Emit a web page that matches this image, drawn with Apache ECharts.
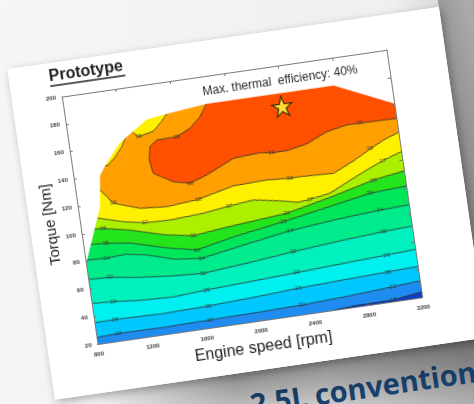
<!DOCTYPE html>
<html>
<head>
<meta charset="utf-8">
<script src="https://cdn.jsdelivr.net/npm/echarts@6/dist/echarts.min.js"></script>
<style>
html,body{margin:0;padding:0;width:474px;height:404px;overflow:hidden;}
body{position:relative;background:linear-gradient(100deg,#f6f6f6 0%,#efefef 72%,#b2b2b2 100%);}
#wrap{position:absolute;left:28px;top:37px;width:436px;height:334px;transform-origin:214px 160px;transform:rotate(-8.2deg);}
#band{position:absolute;left:40px;top:334px;width:560px;height:75px;background:linear-gradient(to bottom,rgba(0,0,0,0.42) 0%,rgba(0,0,0,0.26) 35%,rgba(0,0,0,0.06) 75%,rgba(0,0,0,0) 100%);-webkit-mask-image:linear-gradient(to right,transparent 0,#000 140px);mask-image:linear-gradient(to right,transparent 0,#000 140px);}
#rband{position:absolute;left:436px;top:-40px;width:60px;height:420px;background:linear-gradient(to right,rgba(0,0,0,0.30) 0%,rgba(0,0,0,0.18) 50%,rgba(0,0,0,0.25) 100%);}
#card{position:absolute;left:0;top:0;width:436px;height:334px;background:#fff;box-shadow:2px 3px 8px rgba(0,0,0,0.3);}
#chart{width:436px;height:334px;}
#blue{position:absolute;left:250px;top:384px;white-space:nowrap;font-family:"Open Sans","Noto Sans",sans-serif;font-weight:700;font-size:29px;color:#1e4f86;transform:rotate(-8.3deg);transform-origin:0 50%;}
</style>
</head>
<body>
<div id="blue">2.5L conventional</div>
<div id="wrap">
  <div id="band"></div>
  <div id="rband"></div>
  <div id="card"><div id="chart"></div></div>
</div>
<script>
// ---- axes ----
const xMin = 800, xMax = 3200, xStep = 400;
const yMin = 20, yMax = 200, yStep = 20;

// ---- full-load envelope (max torque curve) ----
const envelope = [[800,78],[960,117],[995,140],[1055,148],[1170,161],[1390,175],[1540,177],[1840,180],[2780,180],[3200,161]];

// ---- contour levels (thermal efficiency, %) ----
const levels = [18,22,26,29,32,34,35,36,37,38,39];
const bandColors = ['#0c3ec8','#1e8cf0','#00c8ff','#00f0f0','#00f0be','#00ec8c','#00e65a','#24e41c','#acf000','#fff000','#ffa000','#ff5000'];

const line18 = [[800,17],[2300,18],[2550,19.8],[2700,21],[2988,21.2],[3200,24]];
const line22 = [[800,24.8],[962,25.5],[1300,25.1],[1640,25.7],[2000,26.2],[2320,26.9],[2650,28.4],[2998,30.6],[3200,32]];
const line26 = [[800,35.5],[953,35.8],[1300,35],[1642,35.8],[2000,37.4],[2312,39.2],[2650,40.5],[2981,41.7],[3200,42.5]];
const line29 = [[800,49.5],[959,48.7],[1150,46.8],[1400,45.8],[1647,47.4],[2000,49],[2317,50.5],[2650,52.2],[2987,53.8],[3200,54.8]];
const line32 = [[800,67],[960,66.3],[1150,63.5],[1400,61],[1640,59.6],[2000,62.6],[2315,65.8],[2650,68.6],[2988,70.8],[3200,71.8]];
const line34 = [[800,81],[957,80.2],[1100,81.2],[1250,78.5],[1450,72.5],[1644,70.4],[2000,76.2],[2312,81],[2650,84.2],[2986,86.5],[3200,87.3]];
const line35 = [[800,92],[967,91],[1150,88.5],[1400,81.5],[1617,76.9],[1900,82.5],[2274,88.2],[2600,93.8],[2931,99.5],[3200,101]];
const line36 = [[800,103],[962,101.9],[1150,98],[1400,91],[1607,87.4],[1850,90],[2307,93.8],[2650,101],[2969,108.6],[3200,112]];
const line37 = [[800,112],[925,110],[1115,104.6],[1270,101.6],[1454,101],[1703,102.4],[1898,104.9],[2079,106.7],[2271,103.4],[2400,100.5],[2490,101.4],[2641,103.7],[2826,111.9],[2931,116.4],[3057,121.4],[3200,126]];
const line38 = [[1560,185],[1541,177],[1500,172.5],[1426,166],[1312,163.6],[1250,170],[1181,158],[1107,150],[1063,146.5],[900,144],[900,131],[980,129.6],[1061,118.8],[1250,112.4],[1445,110.8],[1681,112.8],[1950,118.8],[2196,119.6],[2367,118.4],[2441,118.5],[2690,117.5],[2850,124.5],[2977,131],[3083,136],[3200,140]];
const line39 = [[1841,180.5],[1780,171.6],[1695,164.3],[1590,159.7],[1442,159.4],[1386,155.3],[1367,145.9],[1382,136],[1518,127.9],[1638,125.1],[1767,129.3],[1977,138.4],[2176,139.7],[2261,138.5],[2372,138.4],[2524,141.2],[2681,147.8],[2833,150.6],[2930,150.5],[3200,150.2]];
const contourLines = [line18,line22,line26,line29,line32,line34,line35,line36,line37,line38,line39];

// contour label positions [rpm, torque, text]
const contourLabels = [
  [2988,21.2,'18'],
  [962,25.5,'22'],[1640,25.7,'22'],[2320,26.9,'22'],[2998,30.6,'22'],
  [953,35.8,'26'],[1642,35.8,'26'],[2312,39.2,'26'],[2981,41.7,'26'],
  [959,48.7,'29'],[1647,47.4,'29'],[2317,50.5,'29'],[2987,53.8,'29'],
  [960,66.3,'32'],[1640,59.6,'32'],[2315,65.8,'32'],[2988,70.8,'32'],
  [957,80.2,'34'],[1644,70.4,'34'],[2312,81,'34'],[2986,86.5,'34'],
  [967,91,'35'],[1617,76.9,'35'],[2274,88.2,'35'],[2931,99.5,'35'],
  [962,101.9,'36'],[1607,87.4,'36'],[2307,93.8,'36'],[2969,108.6,'36'],
  [1270,101.6,'37'],[1898,104.9,'37'],[2490,101.4,'37'],[3057,121.4,'37'],
  [1312,163.6,'38'],[1061,118.8,'38'],[1681,112.8,'38'],[2367,118.4,'38'],[2977,131,'38'],
  [1590,159.7,'39'],[1638,125.1,'39'],[2261,138.5,'39'],[2930,150.5,'39']
];

// best efficiency point
const bestPoint = [[2385,170.5]];
const titleText = 'Prototype';
const noteText = 'Max. thermal  efficiency: 40%';
const xName = 'Engine speed [rpm]';
const yName = 'Torque [Nm]';

// ---- helpers ----
function polygonSeries(points, color, z) {
  return {
    type: 'custom', coordinateSystem: 'cartesian2d', clip: true, silent: true, z: z,
    data: [points[0]],
    renderItem: function (params, api) {
      return { type: 'polygon', shape: { points: points.map(p => api.coord(p)) }, style: { fill: color, stroke: null } };
    }
  };
}
function polylineSeries(points, z) {
  return {
    type: 'custom', coordinateSystem: 'cartesian2d', clip: true, silent: true, z: z,
    data: [points[0]],
    renderItem: function (params, api) {
      return { type: 'polyline', shape: { points: points.map(p => api.coord(p)) }, style: { stroke: '#303030', lineWidth: 0.8, fill: null } };
    }
  };
}

const series = [];
series.push(polygonSeries([[xMin,yMin],[xMax,yMin],[xMax,yMax],[xMin,yMax]], bandColors[0], 1));
contourLines.forEach((ln, i) => {
  const poly = ln.concat([[xMax, yMax + 5], [ln[0][0], yMax + 5]]);
  series.push(polygonSeries(poly, bandColors[i + 1], 2 + i * 0.01));
});
contourLines.forEach(ln => series.push(polylineSeries(ln, 3)));
series.push(polygonSeries(envelope.concat([[xMax, yMax + 5], [xMin, yMax + 5]]), '#ffffff', 4));
series.push({
  type: 'scatter', z: 5, silent: true, symbolSize: 0,
  data: contourLabels.map(d => ({ value: [d[0], d[1]], name: d[2] })),
  label: { show: true, position: 'inside', formatter: p => p.name, fontSize: 6, color: '#333', fontFamily: 'Liberation Sans, Arial' }
});
series.push({
  type: 'scatter', z: 6, silent: true,
  symbol: 'path://M50,2 L61.8,38 L99,38 L69,60 L80.5,96 L50,74 L19.5,96 L31,60 L1,38 L38.2,38 Z',
  symbolSize: 20,
  itemStyle: { color: '#ffff3a', borderColor: '#111', borderWidth: 1.2 },
  data: bestPoint
});

const axisCommon = {
  type: 'value', z: 10,
  axisLine: { show: true, lineStyle: { color: '#7a7a7a', width: 1 } },
  axisTick: { show: true, inside: true, length: 3, lineStyle: { color: '#7a7a7a' } },
  splitLine: { show: false }
};
const labelStyle = { fontSize: 6, fontWeight: 'bold', color: '#3a3a3a', fontFamily: 'Liberation Sans, Arial', formatter: v => String(v) };

const option = {
  animation: false,
  backgroundColor: '#ffffff',
  grid: { left: 50, top: 35, width: 328, height: 250, show: false },
  xAxis: [
    Object.assign({}, axisCommon, {
      position: 'bottom', min: xMin, max: xMax, interval: xStep,
      axisLabel: Object.assign({ margin: 7, showMinLabel: true, showMaxLabel: true }, labelStyle),
      name: xName, nameLocation: 'middle', nameGap: 19, nameMoveOverlap: false,
      nameTextStyle: { fontSize: 16, color: '#222', fontFamily: 'Liberation Sans, Arial' }
    }),
    Object.assign({}, axisCommon, { position: 'top', min: xMin, max: xMax, interval: xStep, axisLabel: { show: false } })
  ],
  yAxis: [
    Object.assign({}, axisCommon, {
      position: 'left', min: yMin, max: yMax, interval: yStep,
      axisLabel: Object.assign({ margin: 6, showMinLabel: true, showMaxLabel: true }, labelStyle),
      name: yName, nameLocation: 'middle', nameGap: 22, nameMoveOverlap: false,
      nameTextStyle: { fontSize: 15, color: '#222', fontFamily: 'Liberation Sans, Arial' }
    }),
    Object.assign({}, axisCommon, { position: 'right', min: yMin, max: yMax, interval: yStep, axisLabel: { show: false } })
  ],
  graphic: [
    { type: 'text', left: 40, top: 6, z: 20, style: { text: titleText, font: 'bold 16px "Liberation Sans", Arial', fill: '#222' } },
    { type: 'line', z: 20, shape: { x1: 40, y1: 23, x2: 116, y2: 23 }, style: { stroke: '#222', lineWidth: 1.3 } },
    { type: 'text', left: 190, top: 45, z: 20, style: { text: noteText, font: '12px "Liberation Sans", Arial', fill: '#2a2a2a' } }
  ],
  series: series
};

const chart = echarts.init(document.getElementById('chart'));
chart.setOption(option);
</script>
</body>
</html>
